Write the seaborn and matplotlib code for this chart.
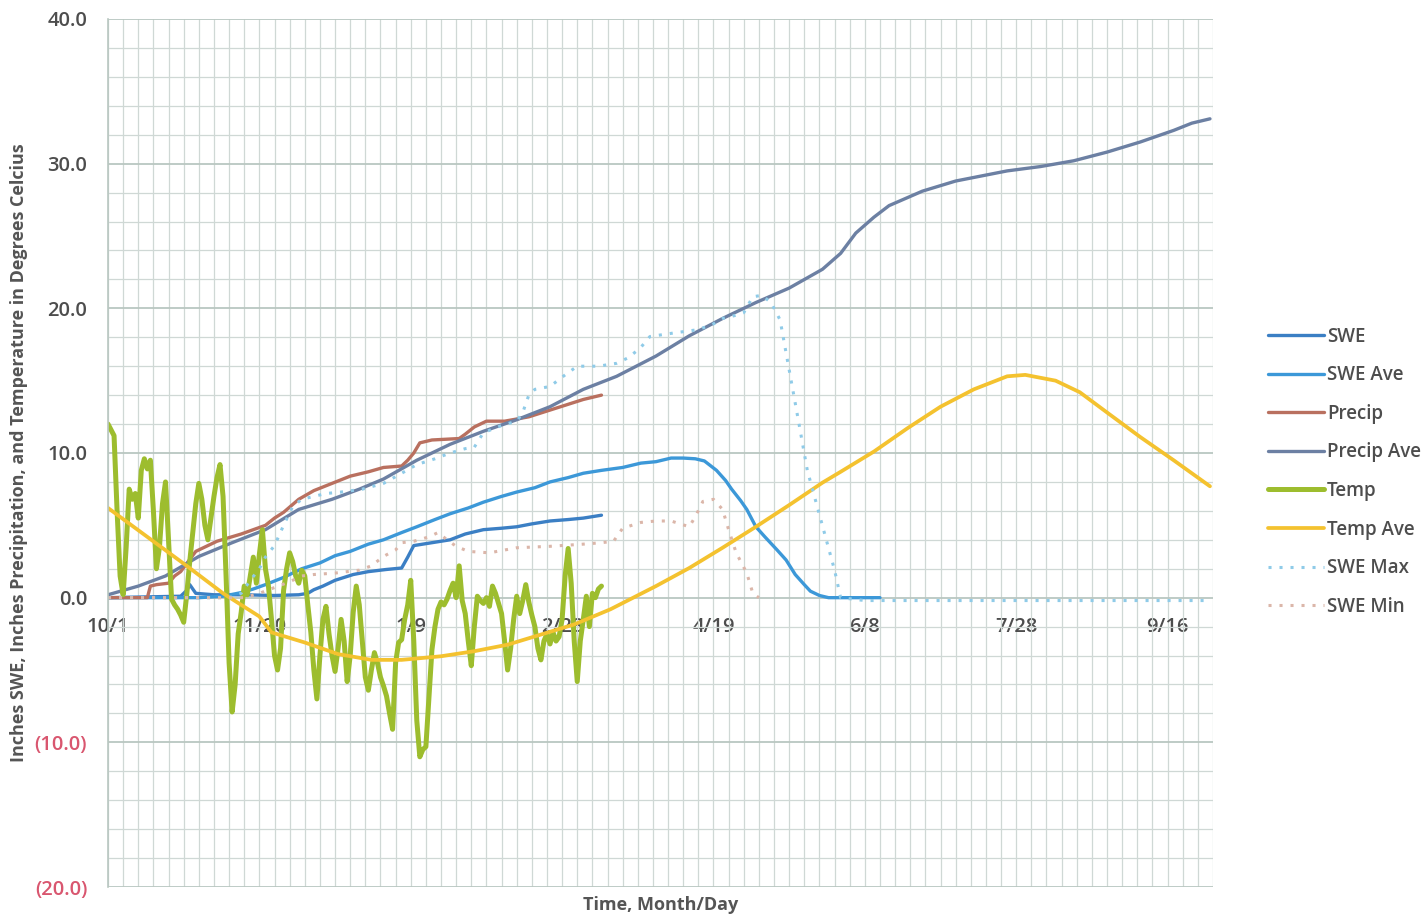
import numpy as np
import pandas as pd
import matplotlib
matplotlib.use('Agg')
import matplotlib.pyplot as plt
import seaborn as sns
from matplotlib.ticker import MultipleLocator

# Days counted from 10/1 (start of water year)
tick_days = [0, 50, 100, 150, 200, 250, 300, 350]
tick_labels = ['10/1', '11/20', '1/9', '2/28', '4/19', '6/8', '7/28', '9/16']
y_ticks = [-20, -10, 0, 10, 20, 30, 40]

# Daily temperature, current year (10/1 onwards)
temp_vals = [12.0, 11.6, 11.2, 6.0, 1.5, 0.2, 3.5, 7.5, 6.8, 7.2,
             5.5, 8.8, 9.6, 8.9, 9.5, 6.0, 2.0, 3.5, 6.5, 8.0,
             4.0, -0.1, -0.5, -0.8, -1.2, -1.7, 0.2, 2.5, 4.5, 6.5,
             7.9, 6.8, 5.0, 4.0, 5.5, 7.0, 8.3, 9.2, 7.0, 1.5,
             -4.5, -7.9, -6.0, -2.5, -1.0, 0.8, 0.2, 1.5, 2.8, 1.0,
             3.0, 4.7, 2.0, 0.8, -1.5, -4.0, -5.0, -3.5, 0.5, 2.0,
             3.1, 2.5, 1.5, 1.0, 1.9, 1.5, -0.5, -2.4, -5.0, -7.0,
             -4.0, -1.5, -0.6, -2.5, -4.0, -5.1, -3.5, -1.5, -3.0, -5.8,
             -4.0, -1.0, 0.8, -0.5, -3.0, -5.5, -6.4, -5.0, -3.8, -4.5,
             -5.5, -6.1, -6.8, -8.0, -9.1, -4.5, -3.1, -2.9, -1.5, -0.5,
             1.2, -3.0, -8.5, -11.0, -10.5, -10.3, -7.0, -3.6, -2.0, -0.8,
             -0.3, -0.5, -0.1, 0.5, 1.0, 0.0, 2.2, -0.2, -1.1, -3.0,
             -4.7, -2.0, 0.1, -0.2, -0.4, 0.0, -0.6, 0.8, 0.3, -0.4,
             -1.1, -3.0, -5.0, -3.5, -1.5, 0.1, -1.1, -0.2, 0.9, -0.3,
             -1.2, -2.0, -3.5, -4.3, -3.0, -2.5, -3.2, -2.4, -3.0, -2.7,
             -1.5, 1.5, 3.4, 1.0, -3.0, -5.8, -3.0, -1.5, 0.1, -2.0,
             0.3, 0.0, 0.6, 0.8]

swe_days = [0, 24, 26, 27, 29, 35, 45, 55, 63, 66, 68, 71, 75, 81, 86, 92,
            97, 99, 101, 107, 110, 113, 118, 124, 130, 135, 140, 146, 152, 157, 163]
swe_vals = [0.0, 0.1, 0.5, 0.9, 0.3, 0.2, 0.2, 0.15, 0.2, 0.3, 0.55, 0.8, 1.2, 1.6, 1.8, 1.95,
            2.05, 2.8, 3.6, 3.8, 3.9, 4.0, 4.4, 4.7, 4.8, 4.9, 5.1, 5.3, 5.4, 5.5, 5.7]

swe_ave_days = [0, 30, 38, 44, 48, 52, 58, 64, 70, 75, 80, 86, 91, 97, 102, 108,
                113, 119, 124, 130, 135, 141, 146, 152, 157, 163, 170, 176, 181, 186,
                190, 194, 197, 201, 204, 206, 209, 211, 214, 217, 221, 224, 227, 230,
                232, 235, 238, 245, 255]
swe_ave_vals = [0.0, 0.0, 0.1, 0.35, 0.6, 0.9, 1.4, 2.0, 2.4, 2.9, 3.2, 3.7, 4.0, 4.5, 4.9, 5.4,
                5.8, 6.2, 6.6, 7.0, 7.3, 7.6, 8.0, 8.3, 8.6, 8.8, 9.0, 9.3, 9.4, 9.65,
                9.65, 9.6, 9.45, 8.8, 8.1, 7.5, 6.7, 6.1, 4.9, 4.2, 3.3, 2.6, 1.6, 0.9,
                0.45, 0.15, 0.0, 0.0, 0.0]

precip_days = [0, 13, 14, 16, 20, 22, 24, 29, 36, 44, 52, 55, 58, 63, 68, 74, 80,
               86, 91, 97, 99, 101, 103, 107, 116, 118, 121, 125, 131, 139, 148, 157, 163]
precip_vals = [0.0, 0.0, 0.8, 0.9, 1.0, 1.5, 1.8, 3.2, 3.9, 4.4, 5.0, 5.5, 5.9, 6.8, 7.4, 7.9, 8.4,
               8.7, 9.0, 9.1, 9.5, 10.0, 10.7, 10.9, 11.0, 11.3, 11.8, 12.2, 12.2, 12.5, 13.1, 13.7, 14.0]

precip_ave_days = [0, 10, 19, 30, 41, 52, 63, 74, 83, 91, 102, 113, 124, 135, 146, 157,
                   168, 181, 192, 203, 214, 225, 236, 242, 247, 253, 258, 269, 280, 297,
                   308, 319, 330, 341, 352, 358, 364]
precip_ave_vals = [0.2, 0.8, 1.5, 2.85, 3.8, 4.7, 6.1, 6.8, 7.5, 8.2, 9.5, 10.6, 11.5, 12.3, 13.2, 14.4,
                   15.3, 16.7, 18.1, 19.3, 20.4, 21.4, 22.7, 23.8, 25.2, 26.3, 27.1, 28.1, 28.8, 29.5,
                   29.8, 30.2, 30.8, 31.5, 32.3, 32.8, 33.1]

temp_ave_days = [0, 13, 26, 38, 50, 54, 65, 76, 87, 97, 110, 121, 132, 143, 154, 166,
                 181, 192, 203, 214, 225, 236, 242, 253, 264, 275, 286, 297, 303, 313,
                 321, 330, 341, 352, 364]
temp_ave_vals = [6.2, 4.2, 2.2, 0.3, -1.3, -2.4, -3.1, -3.9, -4.3, -4.3, -4.05, -3.7, -3.25, -2.55, -1.85, -0.8,
                 0.8, 2.05, 3.45, 4.9, 6.4, 7.95, 8.7, 10.1, 11.7, 13.2, 14.4, 15.3, 15.4, 15.0,
                 14.2, 12.8, 11.1, 9.5, 7.7]

swe_max_days = [0, 40, 44, 47, 50, 52, 55, 58, 61, 64, 68, 72, 77, 84, 91, 97, 102,
                108, 113, 118, 121, 124, 130, 135, 137, 139, 141, 146, 151, 155, 162,
                168, 172, 176, 179, 187, 194, 199, 203, 207, 210, 213, 216, 219, 222,
                224, 226, 228, 231, 234, 237, 240, 242, 250, 364]
swe_max_vals = [0.0, 0.0, 0.3, 1.2, 2.0, 2.8, 3.6, 5.0, 6.3, 6.8, 7.0, 7.2, 7.3, 7.5, 7.9, 8.6, 9.2,
                9.6, 10.0, 10.3, 10.4, 11.4, 11.9, 12.2, 12.8, 14.0, 14.4, 14.6, 15.4, 16.0, 16.0,
                16.2, 16.6, 17.3, 18.05, 18.3, 18.5, 18.8, 19.3, 19.5, 19.7, 20.8, 20.9, 20.4, 19.2,
                16.9, 14.6, 12.3, 8.8, 6.5, 4.2, 1.9, 0.0, -0.2, -0.2]

swe_min_days = [0, 45, 50, 55, 60, 64, 68, 75, 83, 87, 91, 95, 97, 101, 106, 109, 112,
                115, 119, 126, 135, 146, 157, 163, 167, 170, 176, 181, 186, 192, 194,
                196.5, 200, 203, 205, 207.5, 211, 213, 215]
swe_min_vals = [0.0, 0.0, 0.3, 0.7, 1.1, 1.5, 1.6, 1.7, 1.9, 2.2, 2.85, 3.3, 3.8, 3.9, 4.2, 4.5, 4.0,
                3.55, 3.2, 3.1, 3.45, 3.55, 3.7, 3.8, 3.9, 4.8, 5.2, 5.3, 5.3, 4.9, 5.6,
                6.65, 6.8, 6.1, 4.7, 3.1, 1.7, 0.3, 0.0]

# Series in Excel order (later ones drawn on top)
series = [
    ('SWE', swe_days, swe_vals, '#3b7fc4', 2.4, '-'),
    ('SWE Ave', swe_ave_days, swe_ave_vals, '#3c98d8', 2.4, '-'),
    ('Precip', precip_days, precip_vals, '#b9705f', 2.4, '-'),
    ('Precip Ave', precip_ave_days, precip_ave_vals, '#6c80a3', 2.4, '-'),
    ('Temp', list(range(len(temp_vals))), temp_vals, '#9dbd2e', 3.6, '-'),
    ('Temp Ave', temp_ave_days, temp_ave_vals, '#f4c22f', 2.7, '-'),
    ('SWE Max', swe_max_days, swe_max_vals, '#8fcbe8', 2.2, (0, (1, 2.6))),
    ('SWE Min', swe_min_days, swe_min_vals, '#dbb6a9', 2.2, (0, (1, 2.6))),
]

sns.set_style('white')
plt.rcParams['font.family'] = ['Open Sans', 'DejaVu Sans']

fig = plt.figure(figsize=(14.24, 9.16), dpi=100)
ax = fig.add_axes([108 / 1424, 29 / 916, 1105 / 1424, 868 / 916])

for name, d, v, col, lw, ls in series:
    df = pd.DataFrame({'day': d, 'value': v})
    sns.lineplot(data=df, x='day', y='value', ax=ax, color=col, linewidth=lw,
                 linestyle=ls, label=name, estimator=None, sort=False)

# Axes and grid
ax.set_xlim(0, 365)
ax.set_ylim(-20, 40)
ax.set_xticks(tick_days)
ax.set_xticklabels(tick_labels)
ax.xaxis.set_minor_locator(MultipleLocator(5))
ax.set_yticks(y_ticks)
ax.set_yticklabels([f'{v:.1f}' if v >= 0 else f'({-v:.1f})' for v in y_ticks])
ax.yaxis.set_minor_locator(MultipleLocator(2))

ax.grid(which='minor', color='#cfd8d5', linewidth=0.9)
ax.grid(which='major', axis='x', color='#cfd8d5', linewidth=0.9)
ax.grid(which='major', axis='y', color='#b9c7c1', linewidth=1.3)
ax.set_axisbelow(True)

for s in ['top', 'right', 'bottom']:
    ax.spines[s].set_visible(False)
ax.spines['left'].set_color('#b9c7c1')
ax.spines['left'].set_linewidth(1.2)
ax.spines['bottom'].set_position(('data', 0))

ax.tick_params(which='both', length=0)
ax.tick_params(axis='x', pad=14, labelsize=14.5, labelcolor='#4d4d4d')
ax.tick_params(axis='y', pad=15, labelsize=14.5, labelcolor='#4d4d4d')
for lbl in ax.get_xticklabels() + ax.get_yticklabels():
    lbl.set_fontweight('semibold')
for lbl, v in zip(ax.get_yticklabels(), y_ticks):
    if v < 0:
        lbl.set_color('#d9566f')

ax.set_xlabel('Time, Month/Day', fontsize=13, fontweight='bold', color='#555555')
ax.set_ylabel('Inches SWE, Inches Precipitation, and Temperature in Degrees Celcius',
              fontsize=13, fontweight='bold', color='#555555')
ax.xaxis.set_label_coords(0.5, -0.01)
ax.yaxis.set_label_coords(-0.072, 0.5)

# Legend on the right, no frame
handles, labels = ax.get_legend_handles_labels()
if ax.get_legend() is not None:
    ax.get_legend().remove()
fig.legend(handles, labels, loc='center left', bbox_to_anchor=(1268 / 1424, 0.485),
           frameon=False, handlelength=3.0, handletextpad=0.15, labelspacing=0.99,
           borderpad=0, borderaxespad=0, labelcolor='#4d4d4d',
           prop={'size': 13.5, 'weight': 'semibold'})

plt.savefig('out.png', dpi=100)
plt.close()
